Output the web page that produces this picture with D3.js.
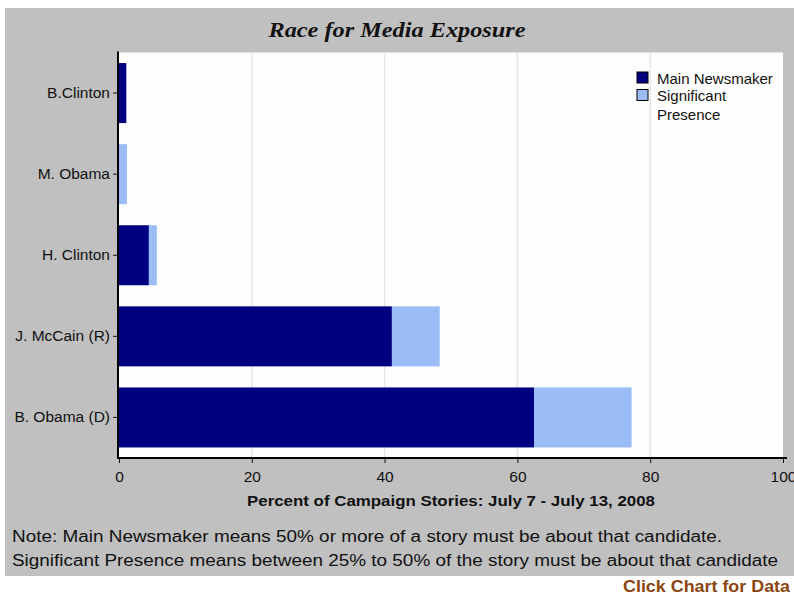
<!DOCTYPE html>
<html>
<head>
<meta charset="utf-8">
<script src="https://cdn.jsdelivr.net/npm/d3@7"></script>
<style>
body { margin: 0; background: #fff; }
svg { display: block; }
</style>
</head>
<body>
<div class="central"></div>
<script>
// chart data
var candidates = ["B.Clinton", "M. Obama", "H. Clinton", "J. McCain (R)", "B. Obama (D)"];
var mainNewsmaker = [1.1, 0, 4.5, 41.1, 62.5];
var significantPresence = [0, 1.2, 1.2, 7.2, 14.7];
var seriesNames = ["Main Newsmaker", "Significant Presence"];
var seriesColors = ["#000080", "#9bbdf7"];
var xTicks = [0, 20, 40, 60, 80, 100];

var width = 794,
	height = 595;

var plot = {left: 119, right: 783, top: 52.5, bottom: 458};

var svg = d3.select(".central")
			.append("svg")
			.attr("width", width)
			.attr("height", height);

// gray panel
svg.append("rect")
	.attr("x", 5).attr("y", 8)
	.attr("width", 789).attr("height", 568)
	.style("fill", "#c0c0c0");

// white plot area
svg.append("rect")
	.attr("x", plot.left).attr("y", plot.top)
	.attr("width", plot.right - plot.left).attr("height", plot.bottom - plot.top)
	.style("fill", "#fefefe");

var x = d3.scaleLinear()
		.domain([0, 100])
		.range([plot.left, plot.right]);

var y = d3.scaleBand()
		.domain(candidates)
		.range([plot.top, plot.bottom])
		.paddingInner(0.26)
		.paddingOuter(0.13);

// gridlines
svg.selectAll(".grid")
	.data(xTicks.slice(1, -1))
	.enter()
	.append("line")
	.attr("class", "grid")
	.attr("x1", function(d){ return x(d); })
	.attr("x2", function(d){ return x(d); })
	.attr("y1", plot.top)
	.attr("y2", plot.bottom)
	.style("stroke", "#e6e6e6")
	.style("stroke-width", 1.5);

// stacked bars
var rows = candidates.map(function(c, i){
	return {name: c, main: mainNewsmaker[i], sig: significantPresence[i]};
});

svg.selectAll(".barMain")
	.data(rows)
	.enter()
	.append("rect")
	.attr("class", "barMain")
	.attr("x", x(0))
	.attr("y", function(d){ return y(d.name); })
	.attr("width", function(d){ return x(d.main) - x(0); })
	.attr("height", y.bandwidth())
	.style("fill", seriesColors[0]);

svg.selectAll(".barSig")
	.data(rows)
	.enter()
	.append("rect")
	.attr("class", "barSig")
	.attr("x", function(d){ return x(d.main); })
	.attr("y", function(d){ return y(d.name); })
	.attr("width", function(d){ return x(d.main + d.sig) - x(d.main); })
	.attr("height", y.bandwidth())
	.style("fill", seriesColors[1]);

// axes
var xAxis = svg.append("g")
	.attr("transform", "translate(0," + plot.bottom + ")")
	.call(d3.axisBottom(x).tickValues(xTicks).tickSize(5));

var yAxis = svg.append("g")
	.attr("transform", "translate(" + (plot.left - 1) + ",0)")
	.call(d3.axisLeft(y).tickSize(5).tickPadding(3));

[xAxis, yAxis].forEach(function(g){
	g.select(".domain").remove();
	g.selectAll("line").style("stroke", "#111");
	g.selectAll("text")
		.style("font-family", "'Liberation Sans', Arial, sans-serif")
		.style("font-size", "15.5px")
		.style("fill", "#111");
});
xAxis.selectAll("text").attr("y", 24).attr("dy", 0);

// axis lines
svg.append("line")
	.attr("x1", plot.left - 1).attr("x2", plot.left - 1)
	.attr("y1", plot.top - 1).attr("y2", plot.bottom + 1)
	.style("stroke", "#000").style("stroke-width", 2);
svg.append("line")
	.attr("x1", plot.left - 2).attr("x2", plot.right + 4)
	.attr("y1", plot.bottom).attr("y2", plot.bottom)
	.style("stroke", "#000").style("stroke-width", 2);

// legend
var legendLines = [["Main Newsmaker"], ["Significant", "Presence"]];
var legend = svg.selectAll(".legend")
	.data(legendLines)
	.enter()
	.append("g")
	.attr("class", "legend")
	.attr("transform", function(d, i){ return "translate(637," + (72 + i * 17.5) + ")"; });

legend.append("rect")
	.attr("width", 11).attr("height", 11)
	.style("fill", function(d, i){ return seriesColors[i]; })
	.style("stroke", "#000").style("stroke-width", 1);

legend.append("text")
	.attr("x", 20)
	.attr("y", 11.5)
	.style("font-family", "'Liberation Sans', Arial, sans-serif")
	.style("font-size", "15px")
	.style("fill", "#111")
	.selectAll("tspan")
	.data(function(d){ return d; })
	.enter()
	.append("tspan")
	.attr("x", 20)
	.attr("dy", function(d, i){ return i ? 18.7 : 0; })
	.text(function(d){ return d; });

// title
svg.append("text")
	.attr("x", 397).attr("y", 37)
	.attr("text-anchor", "middle")
	.attr("textLength", 257)
	.attr("lengthAdjust", "spacingAndGlyphs")
	.style("font-family", "'Liberation Serif', 'Times New Roman', serif")
	.style("font-weight", "bold").style("font-style", "italic")
	.style("font-size", "21px")
	.style("fill", "#111")
	.text("Race for Media Exposure");

// x axis title
svg.append("text")
	.attr("x", 451).attr("y", 506)
	.attr("text-anchor", "middle")
	.attr("textLength", 408)
	.attr("lengthAdjust", "spacingAndGlyphs")
	.style("font-family", "'Liberation Sans', Arial, sans-serif")
	.style("font-weight", "bold")
	.style("font-size", "14px")
	.style("fill", "#111")
	.text("Percent of Campaign Stories: July 7 - July 13, 2008");

// notes
var notes = [
	{text: "Note: Main Newsmaker means 50% or more of a story must be about that candidate.", len: 710, y: 542},
	{text: "Significant Presence means between 25% to 50% of the story must be about that candidate", len: 766, y: 566}
];
svg.selectAll(".note")
	.data(notes)
	.enter()
	.append("text")
	.attr("class", "note")
	.attr("x", 12)
	.attr("y", function(d){ return d.y; })
	.attr("textLength", function(d){ return d.len; })
	.attr("lengthAdjust", "spacingAndGlyphs")
	.style("font-family", "'Liberation Sans', Arial, sans-serif")
	.style("font-size", "16px")
	.style("fill", "#111")
	.text(function(d){ return d.text; });

// link text
svg.append("text")
	.attr("x", 790).attr("y", 592)
	.attr("text-anchor", "end")
	.attr("textLength", 167)
	.attr("lengthAdjust", "spacingAndGlyphs")
	.style("font-family", "'Liberation Sans', Arial, sans-serif")
	.style("font-weight", "bold")
	.style("font-size", "16px")
	.style("fill", "#8b4510")
	.text("Click Chart for Data");
</script>
</body>
</html>
